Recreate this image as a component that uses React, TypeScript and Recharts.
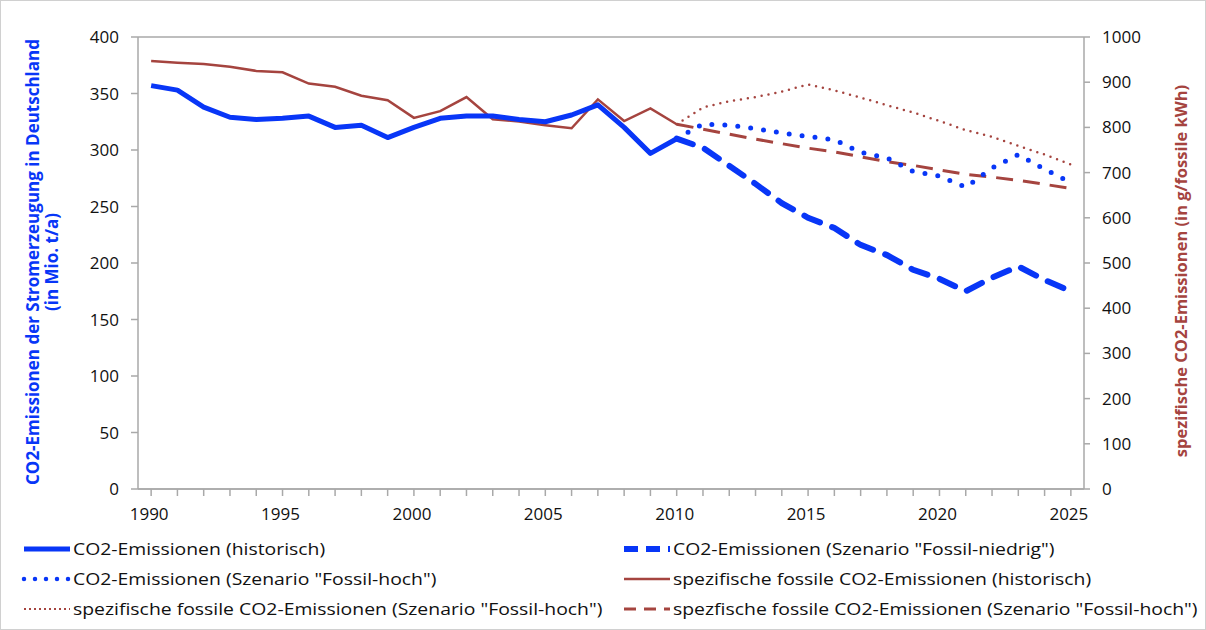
import {
  ComposedChart,
  Line,
  XAxis,
  YAxis,
  CartesianGrid
} from "recharts"

const years = [
  1990, 1991, 1992, 1993, 1994, 1995, 1996, 1997, 1998, 1999,
  2000, 2001, 2002, 2003, 2004, 2005, 2006, 2007, 2008, 2009,
  2010, 2011, 2012, 2013, 2014, 2015, 2016, 2017, 2018, 2019,
  2020, 2021, 2022, 2023, 2024, 2025
]

// CO2-Emissionen (Mio. t/a), linke Achse
const co2Hist = [
  357, 353, 338, 329, 327, 328, 330, 320, 322, 311,
  320, 328, 330, 330, 327, 325, 331, 340, 320, 297,
  310
]
const co2Niedrig = [
  310, 302, 286, 270, 253, 240, 231, 216, 207, 194,
  186, 175, 187, 197, 185, 175
]
const co2Hoch = [
  310, 323, 322, 319, 315, 312, 309, 298, 293, 281,
  277, 267, 284, 296, 283, 271
]

// spezifische Emissionen (g/kWh), rechte Achse
const specHist = [
  947, 943, 940, 934, 925, 922, 897, 890, 870, 860,
  821, 836, 867, 818, 813, 805, 798, 862, 814, 842,
  807
]
const specHoch = [
  807, 844, 858, 867, 879, 895, 882, 866, 849, 833,
  814, 794, 779, 759, 740, 718
]
const specNiedrig = [
  807, 796, 785, 774, 764, 754, 746, 735, 724, 716,
  706, 696, 690, 683, 674, 665
]

const leftTicks = [0, 50, 100, 150, 200, 250, 300, 350, 400]
const rightTicks = [0, 100, 200, 300, 400, 500, 600, 700, 800, 900, 1000]

const scenarioStart = 2010

const data = years.map((year, i) => {
  const j = year - scenarioStart
  return {
    year,
    co2Hist: co2Hist[i],
    co2Niedrig: j >= 0 ? co2Niedrig[j] : undefined,
    co2Hoch: j >= 0 ? co2Hoch[j] : undefined,
    specHist: specHist[i],
    specHoch: j >= 0 ? specHoch[j] : undefined,
    specNiedrig: j >= 0 ? specNiedrig[j] : undefined
  }
})

const BLUE = "#0836f7"
const BROWN = "#a5443f"
const GRID = "#a9a9a9"
const FONT = "'Open Sans', 'Liberation Sans', sans-serif"

const legendItems = [
  { label: "CO2-Emissionen (historisch)", color: BLUE, width: 5, dash: undefined, cap: "butt" },
  { label: "CO2-Emissionen (Szenario \"Fossil-niedrig\")", color: BLUE, width: 6, dash: "14 8", cap: "butt" },
  { label: "CO2-Emissionen (Szenario \"Fossil-hoch\")", color: BLUE, width: 4.5, dash: "0 11", cap: "round" },
  { label: "spezifische fossile CO2-Emissionen (historisch)", color: BROWN, width: 2.5, dash: undefined, cap: "butt" },
  { label: "spezifische fossile CO2-Emissionen (Szenario \"Fossil-hoch\")", color: BROWN, width: 2, dash: "2 3", cap: "butt" },
  { label: "spezfische fossile CO2-Emissionen (Szenario \"Fossil-hoch\")", color: BROWN, width: 3, dash: "12 8", cap: "butt" }
]

const YearTick = (props: any) => {
  const { x, y, payload } = props
  const show = payload.value % 5 === 0
  return (
    <g>
      {show && (
        <text x={x - 2} y={y + 22} textAnchor="middle" fontSize={17} fill="#111" fontFamily={FONT}>
          {payload.value}
        </text>
      )}
    </g>
  )
}

export default function App() {
  return (
    <div
      style={{
        position: "absolute",
        left: 0,
        top: 0,
        width: 1204,
        height: 628,
        border: "1px solid #d0d0d0",
        background: "#fff",
        fontFamily: FONT
      }}
    >
      <ComposedChart
        width={1206}
        height={530}
        data={data}
        margin={{ top: 36, right: 63, left: 77, bottom: 0 }}
      >
        <CartesianGrid vertical={false} stroke={GRID} strokeWidth={1.5} />

        <XAxis
          dataKey="year"
          scale="band"
          interval={0}
          height={42}
          tick={<YearTick />}
          tickSize={7}
          tickLine={{ stroke: GRID, strokeWidth: 1.5 }}
          axisLine={{ stroke: GRID, strokeWidth: 1.5 }}
        />

        <YAxis
          yAxisId="left"
          domain={[0, 400]}
          ticks={leftTicks}
          width={60}
          tick={{ fontSize: 17, fill: "#111", fontFamily: FONT }}
          tickSize={7}
          tickMargin={12}
          tickLine={{ stroke: GRID, strokeWidth: 1.5 }}
          axisLine={{ stroke: GRID, strokeWidth: 1.5 }}
          label={{
            content: () => (
              <text
                transform="translate(47, 261) rotate(-90)"
                textAnchor="middle"
                fill={BLUE}
                fontSize={17}
                fontWeight="bold"
                fontFamily={FONT}
              >
                <tspan x={0} dy={-9}>CO2-Emissionen der Stromerzeugung in Deutschland</tspan>
                <tspan x={0} dy={19}>(in Mio. t/a)</tspan>
              </text>
            )
          }}
        />

        <YAxis
          yAxisId="right"
          orientation="right"
          domain={[0, 1000]}
          ticks={rightTicks}
          width={60}
          tick={{ fontSize: 17, fill: "#111", fontFamily: FONT }}
          tickSize={6}
          tickMargin={12}
          tickLine={{ stroke: GRID, strokeWidth: 1.5 }}
          axisLine={{ stroke: GRID, strokeWidth: 1.5 }}
          label={{
            content: () => (
              <text
                transform="translate(1186, 270) rotate(-90)"
                textAnchor="middle"
                fill={BROWN}
                fontSize={16.5}
                fontWeight="bold"
                fontFamily={FONT}
              >
                spezifische CO2-Emissionen (in g/fossile kWh)
              </text>
            )
          }}
        />

        <Line
          yAxisId="right"
          dataKey="specHist"
          stroke={BROWN}
          strokeWidth={2.5}
          dot={false}
          isAnimationActive={false}
        />
        <Line
          yAxisId="right"
          dataKey="specHoch"
          stroke={BROWN}
          strokeWidth={2.5}
          strokeDasharray="0 7"
          strokeLinecap="round"
          dot={false}
          isAnimationActive={false}
        />
        <Line
          yAxisId="right"
          dataKey="specNiedrig"
          stroke={BROWN}
          strokeWidth={3}
          strokeDasharray="17 10"
          dot={false}
          isAnimationActive={false}
        />
        <Line
          yAxisId="left"
          dataKey="co2Hist"
          stroke={BLUE}
          strokeWidth={5}
          strokeLinejoin="round"
          dot={false}
          isAnimationActive={false}
        />
        <Line
          yAxisId="left"
          dataKey="co2Niedrig"
          stroke={BLUE}
          strokeWidth={6}
          strokeDasharray="17 13"
          strokeLinecap="round"
          dot={false}
          isAnimationActive={false}
        />
        <Line
          yAxisId="left"
          dataKey="co2Hoch"
          stroke={BLUE}
          strokeWidth={5}
          strokeDasharray="0 13"
          strokeLinecap="round"
          dot={false}
          isAnimationActive={false}
        />
      </ComposedChart>

      <div
        style={{
          position: "absolute",
          left: 20,
          top: 536,
          width: 1180,
          display: "grid",
          gridTemplateColumns: "600px 580px",
          rowGap: 7
        }}
      >
        {legendItems.map((item) => (
          <div key={item.label} style={{ display: "flex", alignItems: "center", height: 23 }}>
            <svg width={52} height={10} style={{ flex: "none" }}>
              <line
                x1={3}
                y1={5}
                x2={49}
                y2={5}
                stroke={item.color}
                strokeWidth={item.width}
                strokeDasharray={item.dash}
                strokeLinecap={item.cap as any}
              />
            </svg>
            <span
              style={{
                fontSize: 17,
                color: "#111",
                whiteSpace: "nowrap",
                display: "inline-block",
                transform: "scaleX(1.14)",
                transformOrigin: "left center"
              }}
            >
              {item.label}
            </span>
          </div>
        ))}
      </div>
    </div>
  )
}
